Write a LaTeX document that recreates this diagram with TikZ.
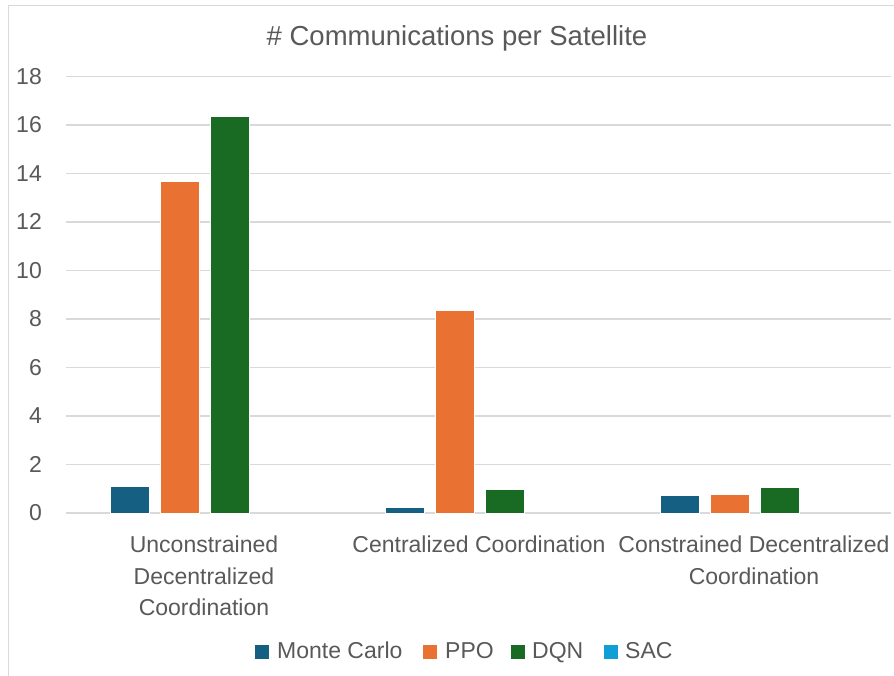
\documentclass[tikz,border=0pt]{standalone}
\usepackage{fontspec}
\setmainfont{Liberation Sans}
\usetikzlibrary{positioning}

\definecolor{mcblue}{HTML}{156082}
\definecolor{ppoorange}{HTML}{E97132}
\definecolor{dqngreen}{HTML}{196B24}
\definecolor{sacblue}{HTML}{0F9ED5}
\definecolor{txtgray}{HTML}{595959}
\definecolor{gridgray}{HTML}{D9D9D9}

\begin{document}
\begin{tikzpicture}[x=1pt, y=-1pt,
    lbl/.style={text=txtgray, font=\fontsize{23}{31.5}\selectfont, inner sep=0pt},
    bar/.style={draw=white, line width=0.6pt},
    key/.style={minimum size=14pt, inner sep=0pt}]
    \clip (0,0) rectangle (894,675);
    \fill[white] (0,0) rectangle (894,675);
    \draw[gridgray, line width=1pt] (8,680) -- (8,5) -- (900,5);

    % title
    \node[lbl, font=\fontsize{27.5}{33}\selectfont, anchor=base] (title) at (457,45) {\# Communications per Satellite};

    % grid and y axis
    \foreach \v in {0,2,...,18} {
        \draw[gridgray, line width=1.5pt] (66,{513-24.26*\v}) -- (891,{513-24.26*\v});
        \node[lbl, anchor=east] (tick\v) at (42,{513-24.26*\v}) {\v};
    }

    % bars: shift / Monte Carlo / PPO / DQN (SAC is 0)
    \foreach \g/\a/\b/\c in {0/1.11/13.67/16.35, 275/0.23/8.35/0.96, 550/0.74/0.77/1.07} {
        \draw[bar, fill=mcblue] (110+\g,513) rectangle (149.5+\g,{513-24.26*\a});
        \draw[bar, fill=ppoorange] (160+\g,513) rectangle (199.5+\g,{513-24.26*\b});
        \draw[bar, fill=dqngreen] (210+\g,513) rectangle (249.5+\g,{513-24.26*\c});
    }

    % categories
    \node[lbl, align=center, anchor=north] (cat1) at (204,536) {Unconstrained\\Decentralized\\Coordination};
    \node[lbl, anchor=north] (cat2) at (479,536) {Centralized Coordination};
    \node[lbl, align=center, anchor=north] (cat3) at (754,536) {Constrained Decentralized\\Coordination};

    % legend
    \node[key, fill=mcblue] (kmc) at (262,651.5) {};
    \node[key, fill=ppoorange] (kppo) at (430,651.5) {};
    \node[key, fill=dqngreen] (kdqn) at (518,651.5) {};
    \node[key, fill=sacblue] (ksac) at (611,651.5) {};
    \node[lbl, anchor=base west] (lmc) at (277,658) {Monte Carlo};
    \node[lbl, anchor=base west] (lppo) at (445,658) {PPO};
    \node[lbl, anchor=base west] (ldqn) at (532,658) {DQN};
    \node[lbl, anchor=base west] (lsac) at (625,658) {SAC};
\end{tikzpicture}
\end{document}
